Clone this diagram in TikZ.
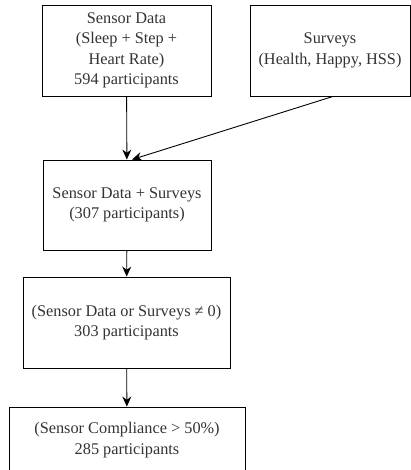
\documentclass[tikz,border=0pt]{standalone}
\usepackage{fontspec}
\setmainfont{Liberation Serif}
\usepackage{tikz}
\usepackage{xcolor}
\usetikzlibrary{arrows.meta}

\begin{document}
\begin{tikzpicture}[x=1pt,y=-1pt,
  stage/.style={draw,line width=0.9pt,align=center,inner sep=0pt,
    text=black!80,font=\fontsize{16.3}{20.5}\selectfont},
  flow/.style={line width=0.9pt,-{Stealth[length=10pt,width=9pt]}}]
  \useasboundingbox (0,0) rectangle (411,470);
  \node[stage,minimum width=169pt,minimum height=91pt] (sensor) at (126.5,50.5)
    {Sensor Data\\(Sleep + Step +\\Heart Rate)\\594 participants};
  \node[stage,minimum width=160pt,minimum height=91pt] (surv) at (330,50.5)
    {Surveys\\(Health, Happy, HSS)};
  \node[stage,minimum width=168pt,minimum height=90pt] (comb) at (127,205)
    {Sensor Data + Surveys\\(307 participants)};
  \node[stage,minimum width=207pt,minimum height=91pt] (filt) at (126.5,322.5)
    {(Sensor Data or Surveys ≠ 0)\\303 participants};
  \node[stage,minimum width=236pt,minimum height=66pt] (comp) at (127,440)
    {(Sensor Compliance > 50\%)\\285 participants};
  % connectors
  \draw[flow] (sensor) -- (comb);
  \draw[flow] ([xshift=3pt]surv.south) -- ([xshift=5pt]comb.north);
  \draw[flow] (comb) -- (filt);
  \draw[flow] (filt) -- (comp);
\end{tikzpicture}
\end{document}
